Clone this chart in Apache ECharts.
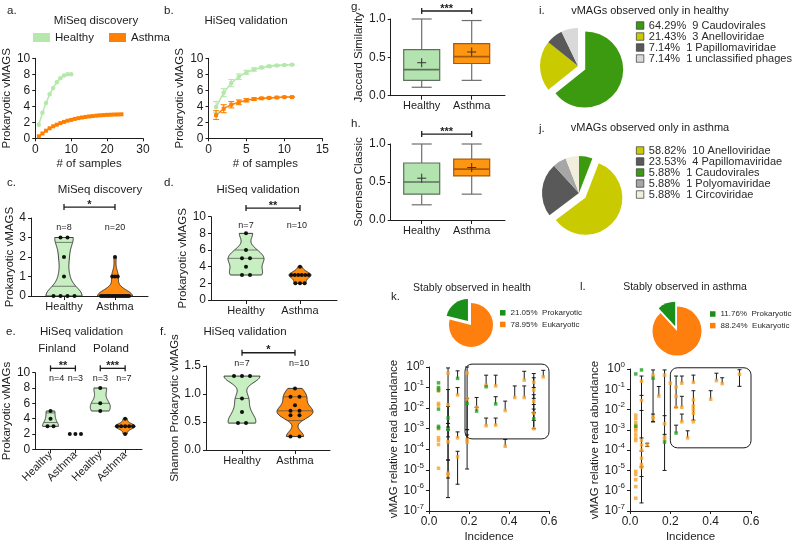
<!DOCTYPE html>
<html><head><meta charset="utf-8">
<script src="https://cdn.jsdelivr.net/npm/echarts@6/dist/echarts.min.js"></script>
<style>html,body{margin:0;padding:0;background:#fff}#c{width:794px;height:544px}</style>
</head><body><div id="c"></div>
<script>
// ================= DATA =================
// a. MiSeq discovery – accumulation of prokaryotic vMAGs
const aHealthySamples = [1,2,3,4,5,6,7,8,9,10];
const aHealthy = [1.7,3.2,4.4,5.5,6.3,7.0,7.5,7.85,8.0,8.0];
const aAsthmaSamples = [1,2,3,4,5,6,7,8,9,10,11,12,13,14,15,16,17,18,19,20,21,22,23,24];
const aAsthma = [0.25,0.6,0.95,1.25,1.5,1.7,1.9,2.05,2.2,2.3,2.42,2.52,2.6,2.67,2.73,2.78,2.83,2.87,2.9,2.93,2.95,2.97,2.98,3.0];
// b. HiSeq validation – accumulation with error bars
const bSamples = [1,2,3,4,5,6,7,8,9,10,11];
const bHealthy = [3.9,5.7,6.9,7.7,8.25,8.6,8.85,9.0,9.1,9.15,9.2];
const bHealthyErr = [0.7,0.5,0.45,0.35,0.25,0.2,0.15,0.12,0.1,0.08,0.05];
const bAsthma = [2.9,3.7,4.2,4.5,4.75,4.9,5.0,5.05,5.1,5.15,5.15];
const bAsthmaErr = [0.55,0.5,0.4,0.3,0.2,0.15,0.1,0.08,0.06,0.04,0.02];
// c–f violin data
const groupCats = ['Healthy','Asthma'];
const cHealthy = [3,3,2,1,0,0,0,0];
const cAsthma = [2,1,1,1,0,0,0,0,0,0,0,0,0,0,0,0,0,0,0,0];
const dHealthy = [8,6,5,5,4,3,3];
const dAsthma = [4,3,3,3,3,3,3,2,2,2];
const eCats = ['Healthy','Asthma','Healthy','Asthma'];
const eFinlandHealthy = [5,4,3,3];
const eFinlandAsthma = [2,2,2];
const ePolandHealthy = [8,6,5];
const ePolandAsthma = [4,3,3,3,3,3,2];
const fHealthy = [1.32,1.32,1.32,0.92,0.68,0.48,0.48];
const fAsthma = [1.1,0.95,0.95,0.8,0.7,0.7,0.62,0.62,0.24,0.24];
// g/h box plots: [min, Q1, median, Q3, max], mean
const gHealthyBox = [0.11,0.2,0.34,0.6,1.0]; const gHealthyMean = 0.43;
const gAsthmaBox = [0.2,0.42,0.51,0.68,0.98]; const gAsthmaMean = 0.57;
const hHealthyBox = [0.2,0.34,0.5,0.75,1.0]; const hHealthyMean = 0.55;
const hAsthmaBox = [0.34,0.58,0.67,0.8,1.0]; const hAsthmaMean = 0.69;
// i/j pies (counts)
const iNames = ['Caudovirales','Anelloviridae','Papillomaviridae','unclassified phages'];
const iCounts = [9,3,1,1];
const jNames = ['Caudovirales','Anelloviridae','Papillomaviridae','Polyomaviridae','Circoviridae'];
const jCounts = [1,10,4,1,1];
const jLegendOrder = ['Anelloviridae','Papillomaviridae','Caudovirales','Polyomaviridae','Circoviridae'];
// k/l pies
const stableNames = ['Eukaryotic','Prokaryotic'];
const kStableCounts = [15,4];
const lStableCounts = [15,2];
// k/l scatter: [incidence, relative abundance, low, high]
const kProkaryotic = [
 [0.0476,0.17,null,null],[0.0476,0.1,null,null],[0.0476,0.075,null,null],[0.0476,0.009,null,null],[0.0476,0.0013,null,null],[0.0476,0.0011,null,null],
 [0.0952,0.0033,0.0012,0.012],[0.0952,0.0009,0.0004,0.0018],
 [0.1429,0.28,0.28,0.65],
 [0.1905,0.017,0.0009,0.03],
 [0.2381,0.0072,0.0072,0.011],
 [0.2857,0.11,null,null],
 [0.3333,0.016,0.016,0.036],
 [0.5238,0.003,0.001,0.009]
];
const kEukaryotic = [
 [0.0476,0.09,null,null],[0.0476,0.068,null,null],[0.0476,0.017,null,null],[0.0476,0.014,null,null],[0.0476,0.001,null,null],[0.0476,0.00037,null,null],[0.0476,0.00027,null,null],[0.0476,0.00017,null,null],[0.0476,0.000012,null,null],
 [0.0952,0.51,0.00000045,0.9],[0.0952,0.0145,0.0018,0.08],[0.0952,0.00023,0.00003,0.0009],[0.0952,0.000007,0.000004,0.00003],[0.0952,0.0000056,null,null],
 [0.1429,0.044,0.044,0.1],[0.1429,0.00036,0.00036,0.0007],[0.1429,0.000043,0.000002,0.00008],
 [0.1905,0.51,0.000011,1.0],[0.1905,0.028,null,null],[0.1905,0.0003,0.0003,0.0009],[0.1905,0.00022,0.00022,0.0005],
 [0.2381,0.011,0.011,0.033],
 [0.2857,0.13,0.13,0.4],[0.2857,0.0014,0.0014,0.0033],
 [0.3333,0.12,0.12,0.4],[0.3333,0.0015,0.0015,0.0033],
 [0.3810,0.0077,0.0077,0.022],[0.3810,0.00014,0.00014,0.0003],
 [0.4286,0.033,0.033,0.12],
 [0.4762,0.23,0.23,0.62],[0.4762,0.033,0.033,0.12],
 [0.5238,0.18,0.1,0.48],[0.5238,0.076,0.03,0.3],[0.5238,0.022,0.006,0.045],[0.5238,0.0058,0.0025,0.015],[0.5238,0.001,0.001,0.006],
 [0.5714,0.33,0.33,0.69]
];
const lProkaryotic = [
 [0.0286,0.57,null,null],[0.0286,0.0015,null,null],
 [0.0571,0.9,null,null],
 [0.1143,0.35,null,null],
 [0.1714,0.00025,null,null],
 [0.2286,0.0007,0.0007,0.0017]
];
const lEukaryotic = [
 [0.0286,0.0053,null,null],[0.0286,0.0036,null,null],[0.0286,0.0023,null,null],[0.0286,0.0017,null,null],[0.0286,0.0012,null,null],[0.0286,0.0009,null,null],[0.0286,0.0006,null,null],[0.0286,0.0004,null,null],[0.0286,0.0003,null,null],[0.0286,0.000009,null,null],[0.0286,0.0000063,null,null],[0.0286,0.0000035,null,null],[0.0286,0.0000016,null,null],[0.0286,0.00000043,null,null],
 [0.0571,0.25,0.00000025,0.45],[0.0571,0.028,0.009,0.05],[0.0571,0.0003,0.000005,0.0004],[0.0571,0.00018,null,null],[0.0571,0.0001,null,null],[0.0571,0.00004,0.000015,0.00009],[0.0571,0.00002,null,null],[0.0571,0.000014,null,null],
 [0.0857,0.00018,0.00015,0.00022],
 [0.1143,0.5,0.0025,0.9],[0.1143,0.0045,null,null],[0.1143,0.0035,0.0025,0.006],
 [0.1429,0.046,0.046,0.137],
 [0.1714,0.5,0.00001,0.9],[0.1714,0.002,0.002,0.005],[0.1714,0.00045,0.00045,0.0006],[0.1714,0.00035,null,null],
 [0.2,0.2,null,null],
 [0.2286,0.13,0.013,0.45],[0.2286,0.045,null,null],[0.2286,0.013,null,null],
 [0.2571,0.2,0.2,0.45],[0.2571,0.013,0.013,0.045],[0.2571,0.0025,0.0025,0.006],
 [0.2857,0.0004,0.0004,0.0009],
 [0.3143,0.22,0.22,0.5],[0.3143,0.03,0.003,0.085],[0.3143,0.015,null,null],[0.3143,0.01,null,null],[0.3143,0.0065,null,null],[0.3143,0.0025,null,null],
 [0.4,0.032,0.032,0.085],
 [0.4286,0.27,0.27,0.62],
 [0.4571,0.19,0.19,0.37],
 [0.5429,0.55,0.14,0.92]
];

// ================= STYLE / LAYOUT =================
const FONT = '"Liberation Sans", Arial, Helvetica, sans-serif';
const INK = '#1d1d1d';
const C_H_LINE = '#b5e8ab', C_A_LINE = '#ff8000';
const C_H_FILL = '#c8efc1', C_A_FILL = '#ff8a0d';
const famColors = {Caudovirales:'#3c9a10', Anelloviridae:'#c9cb00', Papillomaviridae:'#595959', 'unclassified phages':'#d9d9d9', Polyomaviridae:'#a6a6a6', Circoviridae:'#f2eedc'};
const stableColors = {Prokaryotic:'#1a8f1a', Eukaryotic:'#ff7f0e'};
const SC_GREEN = '#22a022', SC_ORANGE = '#f8a128';

function merge(a, b) {
  const o = Object.assign({}, a);
  for (const k in b) {
    const v = b[k];
    if (v && typeof v === 'object' && !Array.isArray(v) && a[k] && typeof a[k] === 'object' && !Array.isArray(a[k])) o[k] = merge(a[k], v);
    else o[k] = v;
  }
  return o;
}
function baseAxis(gi, extra) {
  return merge({
    gridIndex: gi, type: 'value',
    axisLine: {show: true, onZero: false, lineStyle: {color: INK, width: 1}},
    axisTick: {show: true, length: 3, lineStyle: {color: INK, width: 1}},
    axisLabel: {color: INK, fontSize: 12, fontFamily: FONT, margin: 5},
    splitLine: {show: false},
    nameLocation: 'middle',
    nameTextStyle: {color: INK, fontSize: 11.5, fontFamily: FONT}
  }, extra || {});
}
function catAxis(gi, cats, min, max, extra) {
  const pos = cats.map((c, i) => i + 1);
  return baseAxis(gi, merge({min: min, max: max,
    axisTick: {customValues: pos, length: 4},
    axisLabel: {customValues: pos, fontSize: 11, formatter: v => cats[Math.round(v) - 1] || ''}}, extra || {}));
}
const fix1 = v => v.toFixed(1);
const logFmt = v => '{b|10}{s|' + Math.round(Math.log10(v)) + '}';
const logRich = {b: {fontSize: 12, fontFamily: FONT, color: INK}, s: {fontSize: 8, fontFamily: FONT, color: INK, padding: [0, 0, 9, 0]}};

const grids = [
  {left: 29, top: 58.3, width: 114, height: 80},      // a
  {left: 208.5, top: 58.3, width: 113.8, height: 80},  // b
  {left: 31, top: 218, width: 117, height: 78},        // c
  {left: 211, top: 216.7, width: 126, height: 83.3},   // d
  {left: 28, top: 372.7, width: 114, height: 76.6},    // e
  {left: 206, top: 366, width: 124, height: 84},       // f
  {left: 390.7, top: 19, width: 114.3, height: 76.7},  // g
  {left: 390.7, top: 144, width: 114.3, height: 76},   // h
  {left: 429, top: 367, width: 120, height: 146},      // k
  {left: 630, top: 369, width: 121, height: 144}       // l
];

// ---------- helpers ----------
function kde(vals, h) { return y => vals.reduce((s, v) => s + Math.exp(-0.5 * Math.pow((y - v) / h, 2)), 0); }
function quantile(s, p) {
  const pos = (s.length + 1) * p;
  if (pos <= 1) return s[0];
  if (pos >= s.length) return s[s.length - 1];
  const i = Math.floor(pos), f = pos - i;
  return s[i - 1] + f * (s[i] - s[i - 1]);
}
function violinSeries(gi, list) {
  return {type: 'custom', xAxisIndex: gi, yAxisIndex: gi, clip: false, silent: true, z: 3,
    data: list.map(v => [v.pos, v.vals[0]]), encode: {x: 0, y: 1},
    renderItem(params, api) {
      const v = list[params.dataIndex];
      const s = v.vals.slice().sort((a, b) => a - b);
      const lo = s[0], hi = s[s.length - 1];
      const f = kde(s, v.bw || 1);
      let dmax = 0; const N = 60; const ys = [];
      for (let i = 0; i <= N; i++) { const y = lo + (hi - lo) * i / N; const d = f(y); ys.push([y, d]); if (d > dmax) dmax = d; }
      const width = y => hi > lo ? f(y) / dmax * v.hw : v.hw;
      const ch = [];
      if (hi > lo) {
        const R = [], L = [];
        ys.forEach(([y, d]) => { const c = api.coord([v.pos, y]); const w = d / dmax * v.hw; R.push([c[0] + w, c[1]]); L.unshift([c[0] - w, c[1]]); });
        ch.push({type: 'polygon', shape: {points: R.concat(L)}, style: {fill: v.fill, stroke: '#2a2a2a', lineWidth: 0.9}});
        [0.25, 0.5, 0.75].forEach(p => {
          const q = quantile(s, p);
          if (q <= lo + 1e-9 || q >= hi - 1e-9) return;
          const c = api.coord([v.pos, q]); const w = width(q);
          ch.push({type: 'line', shape: {x1: c[0] - w, y1: c[1], x2: c[0] + w, y2: c[1]}, style: {stroke: '#4a4a4a', lineWidth: 0.7}});
        });
      }
      const groups = new Map();
      s.forEach(val => groups.set(val, (groups.get(val) || 0) + 1));
      groups.forEach((k, val) => {
        const c = api.coord([v.pos, val]); const w = width(val);
        const gap = k > 1 ? Math.min(v.gap, 2 * w * 0.8 / (k - 1)) : 0;
        for (let i = 0; i < k; i++) ch.push({type: 'circle', shape: {cx: c[0] + (i - (k - 1) / 2) * gap, cy: c[1], r: 2}, style: {fill: '#111'}});
      });
      return {type: 'group', children: ch};
    }};
}
function boxSeries(gi, list) {
  return {type: 'custom', xAxisIndex: gi, yAxisIndex: gi, clip: false, silent: true, z: 3,
    data: list.map(b => [b.pos, b.box[2]]), encode: {x: 0, y: 1},
    renderItem(params, api) {
      const b = list[params.dataIndex];
      const P = y => api.coord([b.pos, y]);
      const [mn, q1, md, q3, mx] = b.box.map(P);
      const x = mn[0], bw = 18, cw = 10;
      const ln = (x1, y1, x2, y2, st, w) => ({type: 'line', shape: {x1, y1, x2, y2}, style: {stroke: st, lineWidth: w}});
      const m = P(b.mean);
      return {type: 'group', children: [
        ln(x, mx[1], x, q3[1], '#6e6e6e', 1.2), ln(x, q1[1], x, mn[1], '#6e6e6e', 1.2),
        ln(x - cw, mx[1], x + cw, mx[1], '#6e6e6e', 1.2), ln(x - cw, mn[1], x + cw, mn[1], '#6e6e6e', 1.2),
        {type: 'rect', shape: {x: x - bw, y: q3[1], width: 2 * bw, height: q1[1] - q3[1]}, style: {fill: b.fill, stroke: b.stroke, lineWidth: 1.2}},
        ln(x - bw, md[1], x + bw, md[1], b.stroke, 1.6),
        ln(x - 4.5, m[1], x + 4.5, m[1], '#333', 1), ln(x, m[1] - 4.5, x, m[1] + 4.5, '#333', 1)
      ]};
    }};
}
function sigSeries(gi, list) {
  return {type: 'custom', xAxisIndex: gi, yAxisIndex: gi, clip: false, silent: true, z: 5,
    data: list.map(b => [b.x1, b.y]), encode: {x: 0, y: 1},
    renderItem(params, api) {
      const b = list[params.dataIndex];
      const p1 = api.coord([b.x1, b.y]), p2 = api.coord([b.x2, b.y]);
      const st = {stroke: INK, lineWidth: 1.3};
      return {type: 'group', children: [
        {type: 'line', shape: {x1: p1[0], y1: p1[1], x2: p2[0], y2: p2[1]}, style: st},
        {type: 'line', shape: {x1: p1[0], y1: p1[1] - 3, x2: p1[0], y2: p1[1] + 3}, style: st},
        {type: 'line', shape: {x1: p2[0], y1: p2[1] - 3, x2: p2[0], y2: p2[1] + 3}, style: st},
        {type: 'text', x: (p1[0] + p2[0]) / 2, y: p1[1] + 3, style: {text: b.text, fill: INK, font: 'bold 11px ' + FONT, align: 'center', verticalAlign: 'bottom', textAlign: 'center', textVerticalAlign: 'bottom'}}
      ]};
    }};
}
function textSeries(gi, list) {
  return {type: 'custom', xAxisIndex: gi, yAxisIndex: gi, clip: false, silent: true, z: 5,
    data: list.map(t => [t.x, t.y]), encode: {x: 0, y: 1},
    renderItem(params, api) {
      const t = list[params.dataIndex];
      const p = api.coord([t.x, t.y]);
      return {type: 'text', x: p[0], y: p[1], style: {text: t.text, fill: INK, font: '9px ' + FONT, align: 'center', verticalAlign: 'middle', textAlign: 'center', textVerticalAlign: 'middle'}};
    }};
}
function meanErrSeries(gi, xs, ys, es, color) {
  return {type: 'custom', xAxisIndex: gi, yAxisIndex: gi, clip: false, silent: true, z: 4,
    data: xs.map((x, i) => [x, ys[i], es[i]]), encode: {x: 0, y: 1},
    renderItem(params, api) {
      const x = api.value(0), y = api.value(1), e = api.value(2);
      const a = api.coord([x, y - e]), b = api.coord([x, y + e]);
      const st = {stroke: color, lineWidth: 1.1};
      return {type: 'group', children: [
        {type: 'line', shape: {x1: a[0], y1: a[1], x2: b[0], y2: b[1]}, style: st},
        {type: 'line', shape: {x1: a[0] - 3, y1: a[1], x2: a[0] + 3, y2: a[1]}, style: st},
        {type: 'line', shape: {x1: b[0] - 3, y1: b[1], x2: b[0] + 3, y2: b[1]}, style: st}
      ]};
    }};
}
function rangeErrSeries(gi, list) {
  const items = list.filter(d => d[2] !== null);
  return {type: 'custom', xAxisIndex: gi, yAxisIndex: gi, clip: false, silent: true, z: 4,
    data: items.map(d => [d[0], d[1]]), encode: {x: 0, y: 1},
    renderItem(params, api) {
      const d = items[params.dataIndex];
      const a = api.coord([d[0], d[2]]), b = api.coord([d[0], d[3]]);
      const st = {stroke: '#1a1a1a', lineWidth: 1};
      const ch = [{type: 'line', shape: {x1: a[0], y1: a[1], x2: b[0], y2: b[1]}, style: st}];
      if (d[2] < d[1] * 0.999) ch.push({type: 'line', shape: {x1: a[0] - 2, y1: a[1], x2: a[0] + 2, y2: a[1]}, style: st});
      if (d[3] > d[1] * 1.001) ch.push({type: 'line', shape: {x1: b[0] - 2, y1: b[1], x2: b[0] + 2, y2: b[1]}, style: st});
      return {type: 'group', children: ch};
    }};
}
function roundBoxSeries(gi, corners) {
  return {type: 'custom', xAxisIndex: gi, yAxisIndex: gi, clip: false, silent: true, z: 2,
    data: [[corners[0], corners[1]]], encode: {x: 0, y: 1},
    renderItem(params, api) {
      const a = api.coord([corners[0], corners[1]]), b = api.coord([corners[2], corners[3]]);
      return {type: 'rect', shape: {x: a[0], y: a[1], width: b[0] - a[0], height: b[1] - a[1], r: 7}, style: {fill: 'none', stroke: '#1a1a1a', lineWidth: 1}};
    }};
}
function pts(xs, ys) { return xs.map((x, i) => [x, ys[i]]); }
function pieSeries(names, counts, colors, center, r, explode, offset) {
  return {type: 'pie', center: center, radius: r, startAngle: 90, clockwise: true, silent: true,
    selectedMode: 'multiple', selectedOffset: offset, label: {show: false}, labelLine: {show: false},
    emphasis: {disabled: true},
    data: names.map((n, i) => ({name: n, value: counts[i], selected: n === explode, itemStyle: {color: colors[n]}}))};
}
function pieLegend(order, names, counts, withCount, o) {
  const total = counts.reduce((a, b) => a + b, 0);
  return merge({data: order, orient: 'vertical', icon: 'rect', selectedMode: false, itemGap: 0, padding: 0,
    formatter: n => { const c = counts[names.indexOf(n)]; return (c / total * 100).toFixed(2) + '%  ' + (withCount ? c + ' ' : '') + n; },
    textStyle: {color: '#2a2a2a', fontFamily: FONT}}, o);
}

// ---------- layout annotations (data units) ----------
const cViolins = [{pos: 1, vals: cHealthy, bw: 0.45, hw: 18, gap: 7, fill: C_H_FILL}, {pos: 2, vals: cAsthma, bw: 0.32, hw: 17.5, gap: 7, fill: C_A_FILL}];
const dViolins = [{pos: 1, vals: dHealthy, bw: 0.7, hw: 18, gap: 8, fill: C_H_FILL}, {pos: 2, vals: dAsthma, bw: 0.4, hw: 11, gap: 6, fill: C_A_FILL}];
const eViolins = [{pos: 1, vals: eFinlandHealthy, bw: 0.5, hw: 8, gap: 6, fill: C_H_FILL}, {pos: 2, vals: eFinlandAsthma, bw: 0.5, hw: 7, gap: 7, fill: C_A_FILL},
                  {pos: 3, vals: ePolandHealthy, bw: 0.8, hw: 10, gap: 6, fill: C_H_FILL}, {pos: 4, vals: ePolandAsthma, bw: 0.35, hw: 10, gap: 6, fill: C_A_FILL}];
const fViolins = [{pos: 1, vals: fHealthy, bw: 0.12, hw: 18, gap: 8, fill: C_H_FILL}, {pos: 2, vals: fAsthma, bw: 0.1, hw: 18, gap: 9, fill: C_A_FILL}];

const option = {
  animation: false,
  backgroundColor: '#ffffff',
  textStyle: {fontFamily: FONT},
  grid: grids,
  xAxis: [
    baseAxis(0, {min: 0, max: 30, interval: 10, name: '# of samples', nameGap: 20}),
    baseAxis(1, {min: 0, max: 15, interval: 5, name: '# of samples', nameGap: 20}),
    catAxis(2, groupCats, 0.353, 2.647),
    catAxis(3, groupCats, 0.3519, 2.685),
    catAxis(4, eCats, 0.3865, 4.677, {axisLabel: {rotate: 45, margin: 4}}),
    catAxis(5, groupCats, 0.3208, 2.6604),
    catAxis(6, groupCats, 0.38, 2.666),
    catAxis(7, groupCats, 0.38, 2.666),
    baseAxis(8, {min: 0, max: 0.6, interval: 0.2, name: 'Incidence', nameGap: 20, axisLabel: {formatter: fix1}}),
    baseAxis(9, {min: 0, max: 0.6, interval: 0.2, name: 'Incidence', nameGap: 20, axisLabel: {formatter: fix1}})
  ],
  yAxis: [
    baseAxis(0, {min: 0, max: 10, interval: 2, name: 'Prokaryotic vMAGS', nameGap: 15}),
    baseAxis(1, {min: 0, max: 10, interval: 2, name: 'Prokaryotic vMAGS', nameGap: 15}),
    baseAxis(2, {min: 0, max: 4, interval: 1, name: 'Prokaryotic vMAGS', nameGap: 14}),
    baseAxis(3, {min: 0, max: 10, interval: 2, name: 'Prokaryotic vMAGS', nameGap: 17}),
    baseAxis(4, {min: 0, max: 10, interval: 2, name: 'Prokaryotic vMAGs', nameGap: 12}),
    baseAxis(5, {min: 0, max: 1.5, interval: 0.5, name: 'Shannon Prokaryotic vMAGs', nameGap: 23, axisLabel: {formatter: fix1}}),
    baseAxis(6, {min: 0, max: 1, interval: 0.5, name: 'Jaccard Similarity', nameGap: 26, axisLabel: {formatter: fix1}}),
    baseAxis(7, {min: 0, max: 1, interval: 0.5, name: 'Sorensen Classic', nameGap: 26, axisLabel: {formatter: fix1}}),
    baseAxis(8, {type: 'log', logBase: 10, min: 1e-7, max: 1, splitNumber: 7, name: 'vMAG relative read abundance', nameGap: 29, axisLabel: {formatter: logFmt, rich: logRich}}),
    baseAxis(9, {type: 'log', logBase: 10, min: 1e-7, max: 1, splitNumber: 7, name: 'vMAG relative read abundance', nameGap: 27, axisLabel: {formatter: logFmt, rich: logRich}})
  ],
  legend: [
    {data: ['Healthy', 'Asthma'], left: 33, top: 31, icon: 'rect', itemWidth: 17, itemHeight: 9, itemGap: 15, padding: 0, selectedMode: false,
     textStyle: {fontSize: 11.5, color: INK, fontFamily: FONT, lineHeight: 13}},
    pieLegend(iNames, iNames, iCounts, true, {left: 636, top: 20, itemWidth: 7.5, itemHeight: 7.5, itemStyle: {borderColor: '#333', borderWidth: 0.7}, textStyle: {fontSize: 11, lineHeight: 10.2}}),
    pieLegend(jLegendOrder, jNames, jCounts, true, {left: 636, top: 145, itemWidth: 7.5, itemHeight: 7.5, itemStyle: {borderColor: '#333', borderWidth: 0.7}, textStyle: {fontSize: 11, lineHeight: 9.7}}),
    pieLegend(['Prokaryotic', 'Eukaryotic'], stableNames, kStableCounts, false, {left: 500, top: 307, itemWidth: 5.5, itemHeight: 5.5, textStyle: {fontSize: 8, lineHeight: 11.6}}),
    pieLegend(['Prokaryotic', 'Eukaryotic'], stableNames, lStableCounts, false, {left: 710, top: 308.2, itemWidth: 5.5, itemHeight: 5.5, textStyle: {fontSize: 8, lineHeight: 11.6}})
  ],
  series: [
    // a
    {name: 'Healthy', type: 'line', xAxisIndex: 0, yAxisIndex: 0, data: pts(aHealthySamples, aHealthy), color: C_H_LINE, symbol: 'circle', symbolSize: 4.5, lineStyle: {width: 1.5}, silent: true, z: 3},
    {name: 'Asthma', type: 'line', xAxisIndex: 0, yAxisIndex: 0, data: pts(aAsthmaSamples, aAsthma), color: C_A_LINE, symbol: 'rect', symbolSize: 4, lineStyle: {width: 1.5}, silent: true, z: 3},
    // b
    meanErrSeries(1, bSamples, bHealthy, bHealthyErr, C_H_LINE),
    meanErrSeries(1, bSamples, bAsthma, bAsthmaErr, C_A_LINE),
    {name: 'Healthy', type: 'line', xAxisIndex: 1, yAxisIndex: 1, data: pts(bSamples, bHealthy), color: C_H_LINE, symbol: 'circle', symbolSize: 4.5, lineStyle: {width: 1.5}, silent: true, z: 3},
    {name: 'Asthma', type: 'line', xAxisIndex: 1, yAxisIndex: 1, data: pts(bSamples, bAsthma), color: C_A_LINE, symbol: 'rect', symbolSize: 4, lineStyle: {width: 1.5}, silent: true, z: 3},
    // c-f violins
    violinSeries(2, cViolins),
    violinSeries(3, dViolins),
    violinSeries(4, eViolins),
    violinSeries(5, fViolins),
    sigSeries(2, [{x1: 1, x2: 2, y: 4.56, text: '*'}]),
    sigSeries(3, [{x1: 1, x2: 2, y: 11.04, text: '**'}]),
    sigSeries(4, [{x1: 1, x2: 2, y: 10.57, text: '**'}, {x1: 3, x2: 4, y: 10.57, text: '***'}]),
    sigSeries(5, [{x1: 1, x2: 2, y: 1.737, text: '*'}]),
    sigSeries(6, [{x1: 1, x2: 2, y: 1.104, text: '***'}]),
    sigSeries(7, [{x1: 1, x2: 2, y: 1.13, text: '***'}]),
    textSeries(2, [{x: 1, y: 3.52, text: 'n=' + cHealthy.length}, {x: 2, y: 3.52, text: 'n=' + cAsthma.length}]),
    textSeries(3, [{x: 1, y: 9.0, text: 'n=' + dHealthy.length}, {x: 1.94, y: 9.0, text: 'n=' + dAsthma.length}]),
    textSeries(4, [{x: 1.25, y: 9.18, text: 'n=' + eFinlandHealthy.length}, {x: 2, y: 9.18, text: 'n=' + eFinlandAsthma.length}, {x: 3, y: 9.18, text: 'n=' + ePolandHealthy.length}, {x: 3.95, y: 9.18, text: 'n=' + ePolandAsthma.length}]),
    textSeries(5, [{x: 1, y: 1.545, text: 'n=' + fHealthy.length}, {x: 2.08, y: 1.545, text: 'n=' + fAsthma.length}]),
    // g/h box plots
    boxSeries(6, [{pos: 1, box: gHealthyBox, mean: gHealthyMean, fill: '#b3e3ae', stroke: '#5f6f5f'}, {pos: 2, box: gAsthmaBox, mean: gAsthmaMean, fill: '#ff9612', stroke: '#a45a08'}]),
    boxSeries(7, [{pos: 1, box: hHealthyBox, mean: hHealthyMean, fill: '#b3e3ae', stroke: '#5f6f5f'}, {pos: 2, box: hAsthmaBox, mean: hAsthmaMean, fill: '#ff9612', stroke: '#a45a08'}]),
    // pies
    pieSeries(iNames, iCounts, famColors, [578, 66], 38, 'Caudovirales', 8),
    pieSeries(jNames, jCounts, famColors, [579, 193], 37, 'Anelloviridae', 8),
    pieSeries(stableNames, kStableCounts, stableColors, [471, 325], 22, 'Prokaryotic', 5),
    pieSeries(stableNames, lStableCounts, stableColors, [677, 331], 24.5, 'Prokaryotic', 5),
    // k scatter
    roundBoxSeries(8, [0.18, 1.38, 0.6, 0.00032]),
    rangeErrSeries(8, kEukaryotic.concat(kProkaryotic)),
    {type: 'scatter', xAxisIndex: 8, yAxisIndex: 8, data: kEukaryotic.map(d => [d[0], d[1]]), symbol: 'rect', symbolSize: 3.5, itemStyle: {color: SC_ORANGE}, silent: true, z: 5},
    {type: 'scatter', xAxisIndex: 8, yAxisIndex: 8, data: kProkaryotic.map(d => [d[0], d[1]]), symbol: 'rect', symbolSize: 3.5, itemStyle: {color: SC_GREEN}, silent: true, z: 5},
    // l scatter
    roundBoxSeries(9, [0.2, 1.15, 0.6, 0.00013]),
    rangeErrSeries(9, lEukaryotic.concat(lProkaryotic)),
    {type: 'scatter', xAxisIndex: 9, yAxisIndex: 9, data: lEukaryotic.map(d => [d[0], d[1]]), symbol: 'rect', symbolSize: 3.5, itemStyle: {color: SC_ORANGE}, silent: true, z: 5},
    {type: 'scatter', xAxisIndex: 9, yAxisIndex: 9, data: lProkaryotic.map(d => [d[0], d[1]]), symbol: 'rect', symbolSize: 3.5, itemStyle: {color: SC_GREEN}, silent: true, z: 5}
  ],
  graphic: []
};

function txt(x, y, t, size, align) {
  return {type: 'text', x: x, y: y, silent: true, style: {text: t, fill: INK, font: size + 'px ' + FONT, align: align || 'center', verticalAlign: 'middle', textAlign: align || 'center', textVerticalAlign: 'middle'}};
}
option.graphic = [
  txt(7, 11, 'a.', 11.5, 'left'), txt(164, 11, 'b.', 11.5, 'left'), txt(7, 183, 'c.', 11.5, 'left'), txt(164, 183, 'd.', 11.5, 'left'),
  txt(6, 332, 'e.', 11.5, 'left'), txt(160, 332, 'f.', 11.5, 'left'), txt(351, 7, 'g.', 11.5, 'left'), txt(351, 124, 'h.', 11.5, 'left'),
  txt(539, 11, 'i.', 11.5, 'left'), txt(539, 129, 'j.', 11.5, 'left'), txt(391, 297, 'k.', 11.5, 'left'), txt(580, 287, 'l.', 11.5, 'left'),
  txt(96, 21, 'MiSeq discovery', 11.5), txt(246, 21, 'HiSeq validation', 11.5),
  txt(100, 190, 'MiSeq discovery', 11.5), txt(258, 190, 'HiSeq validation', 11.5),
  txt(81.5, 332, 'HiSeq validation', 11.5), txt(245, 332, 'HiSeq validation', 11.5),
  txt(57, 349, 'Finland', 11.5), txt(111, 349, 'Poland', 11.5),
  txt(650, 11, 'vMAGs observed only in healthy', 11), txt(650, 128, 'vMAGs observed only in asthma', 11),
  txt(472, 288, 'Stably observed in health', 10.5), txt(685, 287, 'Stably observed in asthma', 10.5)
];

const chart = echarts.init(document.getElementById('c'), null, {renderer: 'canvas', width: 794, height: 544});
chart.setOption(option);
</script>
</body></html>
